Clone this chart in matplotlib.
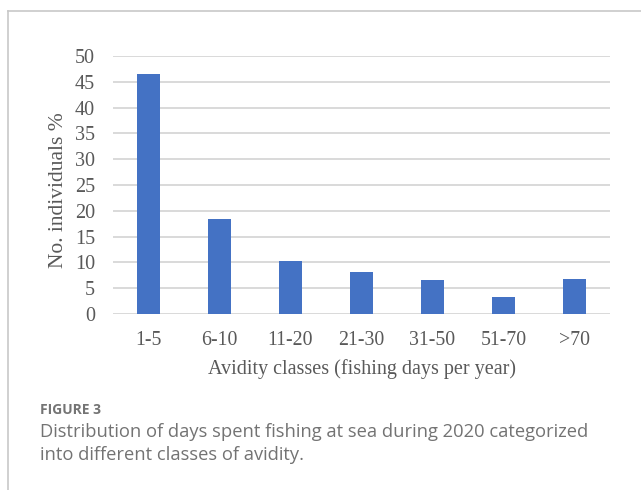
import matplotlib
matplotlib.use("Agg")
import matplotlib.pyplot as plt
from matplotlib.lines import Line2D

categories = ["1-5", "6-10", "11-20", "21-30", "31-50", "51-70", ">70"]
percent = [46.6, 18.35, 10.3, 8.2, 6.5, 3.3, 6.7]
y_ticks = [0, 5, 10, 15, 20, 25, 30, 35, 40, 45, 50]

W, H = 641, 490
fig = plt.figure(figsize=(W / 100, H / 100), dpi=100)
fig.patch.set_facecolor("white")

# light frame along top and left edges
fig.add_artist(Line2D([8 / W, 1.0], [1 - 11 / H, 1 - 11 / H], color="#c8c8c8", lw=1.2))
fig.add_artist(Line2D([8 / W, 8 / W], [0, 1 - 11 / H], color="#c8c8c8", lw=1.2))

left, right, top, bottom = 113, 610, 56, 314
ax = fig.add_axes([left / W, 1 - bottom / H, (right - left) / W, (bottom - top) / H])

x = list(range(len(categories)))
ax.bar(x, percent, width=0.31, color="#4472C4", zorder=3)
ax.set_xlim(-0.5, len(categories) - 0.5)
ax.set_ylim(0, 50)
ax.set_yticks(y_ticks)
ax.set_xticks(x)
ax.set_xticklabels(categories)
ax.yaxis.grid(True, color="#d9d9d9", lw=1.4, zorder=0)
ax.set_axisbelow(True)
for s in ax.spines.values():
    s.set_visible(False)
ax.tick_params(length=0)

serif = "Liberation Serif"
tcol = "#595959"
for lab in ax.get_yticklabels():
    lab.set_fontfamily(serif)
    lab.set_fontsize(14.5)
    lab.set_color(tcol)
for lab in ax.get_xticklabels():
    lab.set_fontfamily(serif)
    lab.set_fontsize(14.3)
    lab.set_color(tcol)
ax.tick_params(axis="y", pad=13)
ax.tick_params(axis="x", pad=12)

ax.set_ylabel("No. individuals %", fontfamily=serif, fontsize=15.5, color=tcol)
ax.yaxis.set_label_coords(-0.09, 0.48)
ax.set_xlabel("Avidity classes (fishing days per year)", fontfamily=serif, fontsize=14.5,
              color=tcol, labelpad=7)

# caption
fig.text(40 / W, 1 - 410 / H, "FIGURE 3", fontfamily="Open Sans", fontsize=10,
         fontweight="bold", color="#747474", va="center", ha="left")
fig.text(40 / W, 1 - 432 / H, "Distribution of days spent fishing at sea during 2020 categorized",
         fontfamily="Open Sans", fontsize=13.2, color="#737373", va="center", ha="left")
fig.text(40 / W, 1 - 455 / H, "into different classes of avidity.",
         fontfamily="Open Sans", fontsize=13.2, color="#737373", va="center", ha="left")

fig.savefig("out.png", dpi=100, facecolor="white")
